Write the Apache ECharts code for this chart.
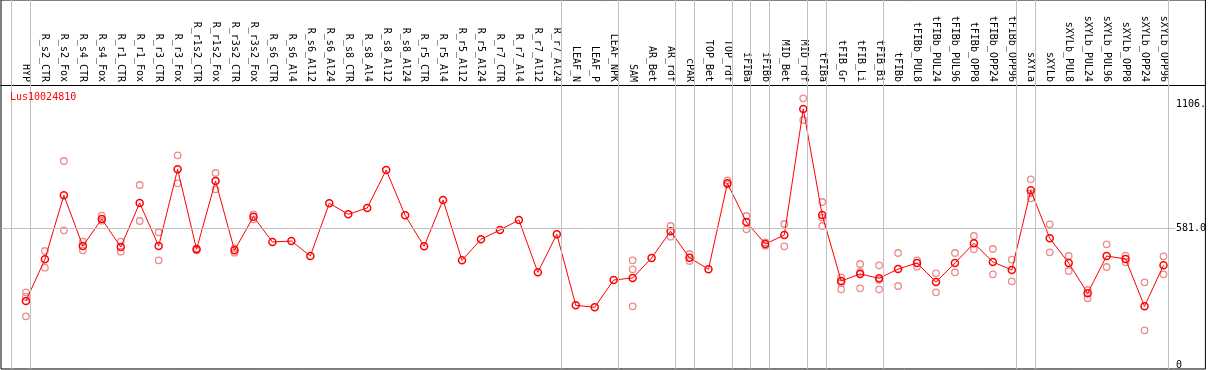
<!DOCTYPE html>
<html>
<head>
<meta charset="utf-8">
<script src="https://cdn.jsdelivr.net/npm/echarts@6/dist/echarts.min.js"></script>
<style>
html,body{margin:0;padding:0;background:#fff;}
#chart{width:1209px;height:370px;}
</style>
</head>
<body>
<div id="chart"></div>
<script>
const categories = ["HYP","R_s2_CTR","R_s2_Fox","R_s4_CTR","R_s4_Fox","R_r1_CTR","R_r1_Fox","R_r3_CTR","R_r3_Fox","R_r1s2_CTR","R_r1s2_Fox","R_r3s2_CTR","R_r3s2_Fox","R_s6_CTR","R_s6_Al4","R_s6_Al12","R_s6_Al24","R_s8_CTR","R_s8_Al4","R_s8_Al12","R_s8_Al24","R_r5_CTR","R_r5_Al4","R_r5_Al12","R_r5_Al24","R_r7_CTR","R_r7_Al4","R_r7_Al12","R_r7_Al24","LEAF_N","LEAF_P","LEAF_NPK","SAM","AR_Bet","AR_rdf","cPAR","TOP_Bet","TOP_rdf","iFIBa","iFIBb","MID_Bet","MID_rdf","tFIBa","tFIB_Gr","tFIB_Li","tFIB_Bi","tFIBb","tFIBb_PUL8","tFIBb_PUL24","tFIBb_PUL96","tFIBb_OPP8","tFIBb_OPP24","tFIBb_OPP96","sXYLa","sXYLb","sXYLb_PUL8","sXYLb_PUL24","sXYLb_PUL96","sXYLb_OPP8","sXYLb_OPP24","sXYLb_OPP96"];

const meanValues = [
272.0, 449.3, 721.3, 505.8, 620.5, 501.5, 688.5, 505.8, 831.8, 491.8,
782.1, 487.5, 630.3, 522.8, 527.0, 463.3, 687.3, 640.5, 667.3, 828.8,
636.3, 504.5, 701.3, 445.0, 534.3, 573.8, 616.3, 394.0, 555.5, 253.7,
245.2, 361.3, 369.8, 454.8, 568.3, 456.0, 406.8, 772.3, 607.8, 514.3,
552.5, 1088.1, 637.5, 357.0, 386.8, 368.5, 408.0, 433.5, 352.8, 433.5,
517.3, 437.8, 403.8, 742.5, 538.5, 433.5, 304.7, 463.3, 450.5, 249.5,
423.7
];

const rep1 = [
309.0, 484.5, 867.1, 524.1, 634.6, 524.1, 765.0, 564.0, 891.3, 496.0,
816.0, 496.0, 640.5, null, null, null, null, null, null, null,
null, null, null, null, null, null, null, null, null, null,
null, null, 445.0, null, 590.8, 471.8, null, 785.0, 633.3, 520.7,
599.3, 1133.5, 692.8, 372.7, 429.3, 423.7, 476.0, 445.0, 389.7, 476.0,
548.3, 493.0, 447.5, 789.3, 598.0, 463.3, 318.8, 513.0, 464.6, 351.5,
462.0
];

const rep2 = [
290.3, 413.5, 572.5, 487.5, 613.3, 481.6, 612.0, 445.0, 772.3, 487.5,
746.8, 477.3, 619.3, null, null, null, null, null, null, null,
null, null, null, null, null, null, null, null, null, null,
null, null, 406.8, null, 545.3, 442.0, null, 766.3, 576.8, 507.1,
504.5, 1041.3, 626.1, 348.5, 395.3, 361.3, 335.8, 417.8, 309.0, 394.0,
491.8, 385.5, 355.7, 729.8, 479.0, 399.5, 283.5, 416.5, 436.5, 147.5,
385.5
];

const rep3 = [
207.0, null, null, null, null, null, null, null, null, null,
null, null, null, null, null, null, null, null, null, null,
null, null, null, null, null, null, null, null, null, null,
null, null, 249.5, null, null, null, null, null, null, null,
null, null, 590.8, 321.7, 326.0, 321.7, null, null, null, null,
null, null, null, 708.5, null, null, null, null, null, null,
null
];

// index of last category in each group (-1 = left edge)
const groupEnds = [-1, 0, 28, 31, 34, 35, 37, 38, 39, 41, 42, 45, 52, 53, 60];

const yTickValues = [581.0, 1106.0];
const yTickTexts = ["581.0", "1106."];
const yZeroValue = [0];
const yZeroText = ["0"];
const refLineValue = 581.0;
const seriesTitle = "Lus10024810";

const FONT = "DejaVu Sans Mono";
const X_MIN = -25 / 19;
const X_MAX = X_MIN + 1207 / 19;
const Y_MIN = -17.0;
const Y_MAX = 1551.3;

const meanData = meanValues.map((v, i) => [i, v]);
const repData = [];
[rep1, rep2, rep3].forEach(arr => arr.forEach((v, i) => { if (v !== null) repData.push([i, v]); }));

const catIndex = categories.map((c, i) => i);

const chart = echarts.init(document.getElementById('chart'), null, {renderer: 'canvas'});
chart.setOption({
  animation: false,
  backgroundColor: '#fff',
  title: {
    text: seriesTitle,
    left: 10, top: 92, padding: 0,
    textStyle: {color: '#ff0000', fontFamily: FONT, fontSize: 10, fontWeight: 'normal'}
  },
  grid: {left: 1, right: 1, top: 0, bottom: 1, show: true, borderColor: '#000', borderWidth: 1, backgroundColor: 'transparent'},
  xAxis: {
    type: 'value', min: X_MIN, max: X_MAX,
    position: 'top', offset: -85,
    axisLine: {show: true, onZero: false, lineStyle: {color: '#000', width: 1}},
    axisTick: {show: false},
    splitLine: {show: false},
    axisLabel: {
      customValues: catIndex,
      formatter: v => categories[Math.round(v)] || '',
      rotate: 90, margin: 3,
      color: '#000', fontFamily: FONT, fontSize: 10,
      showMinLabel: true, showMaxLabel: true, hideOverlap: false
    }
  },
  yAxis: [{
    type: 'value', min: Y_MIN, max: Y_MAX, position: 'right',
    axisLine: {show: false}, axisTick: {show: false}, splitLine: {show: false},
    axisLabel: {
      customValues: yTickValues,
      formatter: v => yTickTexts[yTickValues.indexOf(v)] || '',
      inside: true, align: 'left', margin: 29.5, verticalAlign: 'middle',
      padding: [6, 0, 0, 0],
      color: '#000', fontFamily: FONT, fontSize: 10
    }
  }, {
    type: 'value', min: Y_MIN, max: Y_MAX, position: 'right',
    axisLine: {show: false}, axisTick: {show: false}, splitLine: {show: false},
    axisLabel: {
      customValues: yZeroValue,
      formatter: v => yZeroText[yZeroValue.indexOf(v)] || '',
      inside: true, align: 'left', margin: 29.5, verticalAlign: 'middle',
      padding: [0, 0, 8, 0],
      color: '#000', fontFamily: FONT, fontSize: 10
    }
  }],
  series: [{
    type: 'line',
    data: [],
    markLine: {
      silent: true, symbol: 'none', animation: false,
      label: {show: false},
      lineStyle: {color: '#c0c0c0', width: 1, type: 'solid'},
      data: groupEnds.map(e => ({xAxis: e + 0.23})).concat([
        [{coord: [X_MIN, refLineValue]}, {coord: [(1178 - 26) / 19, refLineValue]}]
      ])
    },
    z: 1
  }, {
    type: 'scatter',
    data: repData,
    symbol: 'circle', symbolSize: 6.5,
    itemStyle: {color: 'rgba(0,0,0,0)', borderColor: '#ea8c8c', borderWidth: 1.3, opacity: 1},
    z: 2
  }, {
    type: 'line',
    data: meanData,
    symbol: 'circle', symbolSize: 7, showAllSymbol: true,
    lineStyle: {color: '#ff0000', width: 1},
    itemStyle: {color: 'rgba(0,0,0,0)', borderColor: '#ff0000', borderWidth: 1.5},
    z: 3
  }]
});
</script>
</body>
</html>
